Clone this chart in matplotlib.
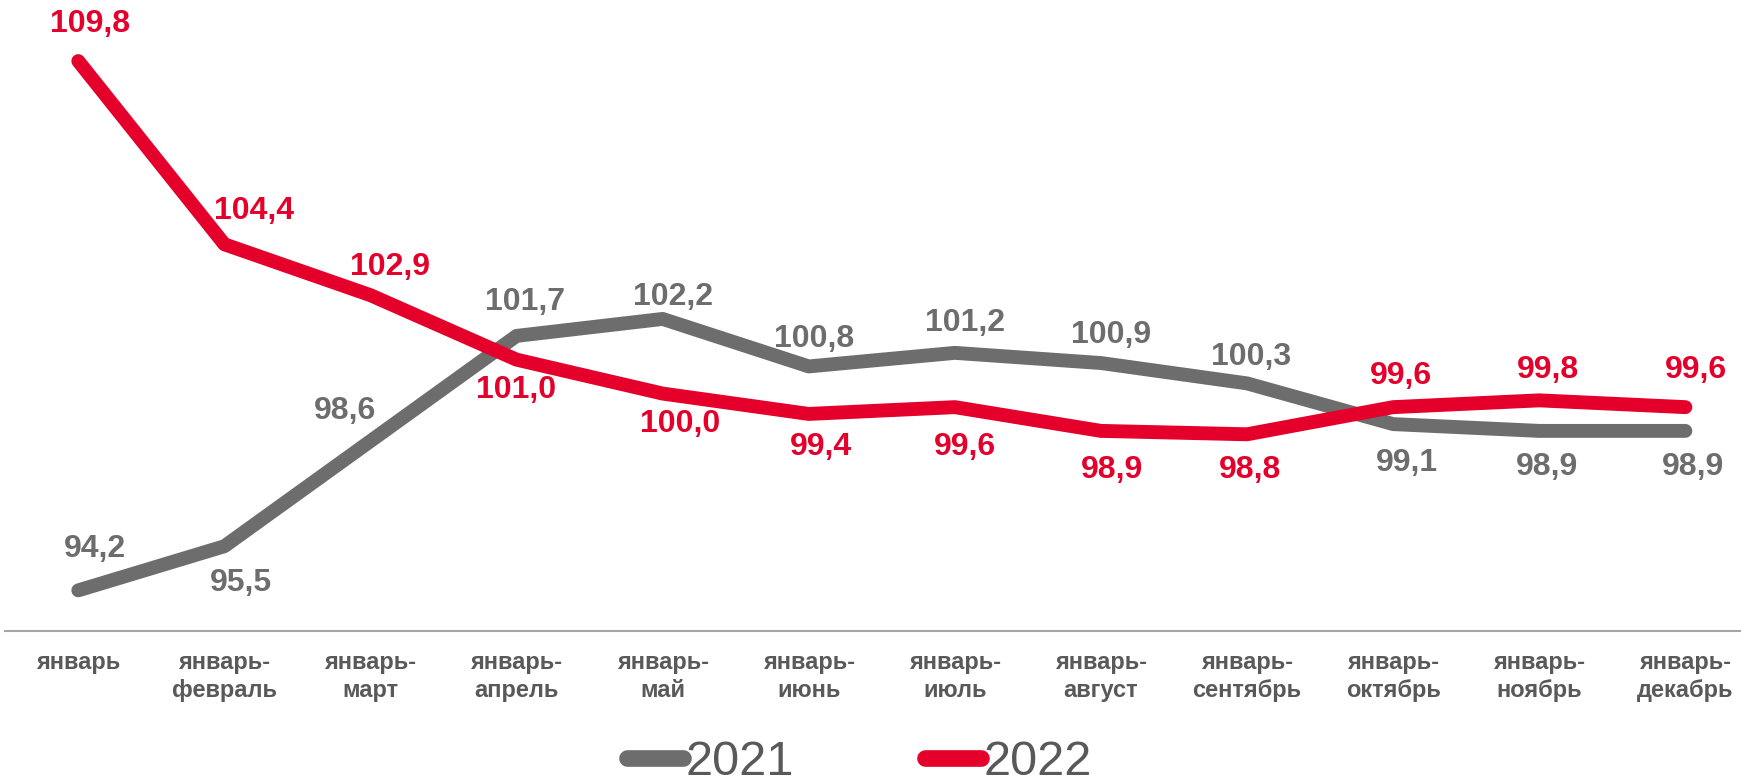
import matplotlib
matplotlib.use("Agg")
import matplotlib.pyplot as plt
from matplotlib.lines import Line2D

categories = ["январь", "январь-\nфевраль", "январь-\nмарт", "январь-\nапрель", "январь-\nмай",
              "январь-\nиюнь", "январь-\nиюль", "январь-\nавгуст", "январь-\nсентябрь",
              "январь-\nоктябрь", "январь-\nноябрь", "январь-\nдекабрь"]
values_2021 = [94.2, 95.5, 98.6, 101.7, 102.2, 100.8, 101.2, 100.9, 100.3, 99.1, 98.9, 98.9]
values_2022 = [109.8, 104.4, 102.9, 101.0, 100.0, 99.4, 99.6, 98.9, 98.8, 99.6, 99.8, 99.6]
series_names = ["2021", "2022"]

# label placement (pixel offsets, style only)
off_2021 = [(17, 41), (17, -37), (-25, 30), (8, 34), (10, 22), (5, 27), (10, 30), (10, 28), (4, 26),
            (14, -39), (8, -36), (8, -36)]
off_2022 = [(12, 37), (30, 33), (20, 28), (-1, -30), (17, -30), (12, -33), (10, -40), (11, -39),
            (3, -36), (8, 31), (9, 30), (11, 37)]

GRAY = "#6d6d6d"
RED = "#e4002b"
TXT = "#595959"
plt.rcParams['font.family'] = ['Liberation Sans', 'DejaVu Sans']

fig = plt.figure(figsize=(17.41, 7.82), dpi=100)
ax = fig.add_axes([0.003, 0.193, 1.007, 0.807])
x = list(range(len(categories)))
ax.plot(x, values_2021, color=GRAY, lw=10, solid_capstyle='round', solid_joinstyle='round', zorder=2)
ax.plot(x, values_2022, color=RED, lw=10, solid_capstyle='round', solid_joinstyle='round', zorder=3)

def fmt(v):
    return f"{v:.1f}".replace(".", ",")

for xi, v, o in zip(x, values_2021, off_2021):
    ax.annotate(fmt(v), (xi, v), xytext=o, textcoords='offset pixels', ha='center', va='center',
                fontsize=23, fontweight='bold', color=GRAY, zorder=4)
for xi, v, o in zip(x, values_2022, off_2022):
    ax.annotate(fmt(v), (xi, v), xytext=o, textcoords='offset pixels', ha='center', va='center',
                fontsize=23, fontweight='bold', color=RED, zorder=4)

ax.set_xlim(-0.5, 11.5)
ax.set_ylim(93.0, 111.6)
ax.set_xticks(x)
ax.set_xticklabels(categories, fontsize=17, fontweight='bold', color=TXT, linespacing=1.25)
ax.tick_params(axis='x', length=0, pad=14.5)
ax.set_yticks([])
for s in ['top', 'right', 'left']:
    ax.spines[s].set_visible(False)
ax.spines['bottom'].set_color('#a6a6a6')
ax.spines['bottom'].set_linewidth(1.5)
ax.patch.set_visible(False)

handles = [Line2D([], [], color=GRAY, lw=12, solid_capstyle='round'),
           Line2D([], [], color=RED, lw=12, solid_capstyle='round')]
leg = fig.legend(handles, series_names, loc='center', bbox_to_anchor=(0.4935, 0.025), ncol=2,
                 frameon=False, fontsize=35, handlelength=1.15, handletextpad=0.05,
                 columnspacing=2.7, labelcolor=TXT, borderpad=0.1)

fig.savefig("out.png", dpi=100)
